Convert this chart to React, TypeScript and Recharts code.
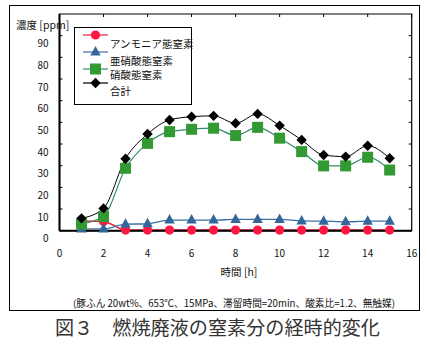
import React from 'react';
import { LineChart, Line, XAxis, YAxis, ReferenceArea } from 'recharts';

const hours = [1, 2, 3, 4, 5, 6, 7, 8, 9, 10, 11, 12, 13, 14, 15];
const ammonia = [4.5, 4.3, 0.3, 0.3, 0.3, 0.3, 0.3, 0.3, 0.3, 0.3, 0.3, 0.3, 0.3, 0.3, 0.3];
const nitrite = [0.8, 0.8, 3.0, 3.2, 4.9, 4.9, 4.9, 5.2, 5.2, 5.2, 4.5, 4.4, 4.1, 4.4, 4.4];
const nitrate = [3.1, 6.5, 28.8, 40.3, 45.7, 46.8, 47.3, 43.9, 47.7, 42.7, 36.5, 29.9, 29.9, 33.9, 28.0];
const total = [5.7, 10.3, 33.2, 44.6, 51.1, 52.6, 53.0, 49.6, 53.9, 48.5, 41.9, 34.9, 34.2, 39.2, 33.4];

const xTicks = [0, 2, 4, 6, 8, 10, 12, 14, 16];
const yTicks = [0, 10, 20, 30, 40, 50, 60, 70, 80, 90];

const seriesNames = ['アンモニア態窒素', '亜硝酸態窒素', '硝酸態窒素', '合計'];
const xTitle = '時間 [h]';
const yTitle = '濃度 [ppm]';
const caption = '(豚ふん 20wt%、653℃、15MPa、滞留時間=20min、酸素比=1.2、無触媒)';
const figTitle = '図３　燃焼廃液の窒素分の経時的変化';

const data = hours.map((h, i) => ({
  h,
  ammonia: ammonia[i],
  nitrite: nitrite[i],
  nitrate: nitrate[i],
  total: total[i],
}));

const FONT = '"Noto Sans CJK JP", "Noto Sans", sans-serif';
const PLOT_L = 59.5;
const PLOT_R = 411.7;
const PLOT_T = 14;
const PLOT_B = 230.7;
const YAXIS_W = 40;
const XAXIS_H = 30;

const colors = {
  ammonia: { line: '#e8203c', mark: '#ff1744' },
  nitrite: { line: '#3a6fa8', mark: '#336699' },
  nitrate: { line: '#2e8b6a', mark: '#339933' },
  total: { line: '#000000', mark: '#000000' },
};

const Circle = (p: any) => (
  <circle key={`c${p.index}`} cx={p.cx} cy={p.cy} r={4.6} fill={colors.ammonia.mark} />
);
const Tri = (p: any) => (
  <path
    key={`t${p.index}`}
    d={`M${p.cx},${p.cy - 6} L${p.cx + 5.2},${p.cy + 3.5} L${p.cx - 5.2},${p.cy + 3.5} Z`}
    fill={colors.nitrite.mark}
  />
);
const Sq = (p: any) => (
  <rect key={`s${p.index}`} x={p.cx - 5.5} y={p.cy - 5.5} width={11} height={11} fill={colors.nitrate.mark} />
);
const Dia = (p: any) => (
  <path
    key={`d${p.index}`}
    d={`M${p.cx},${p.cy - 5.2} L${p.cx + 5.2},${p.cy} L${p.cx},${p.cy + 5.2} L${p.cx - 5.2},${p.cy} Z`}
    fill="#000"
  />
);

const markerFns = [Circle, Tri, Sq, Dia];
const lineColors = [colors.ammonia.line, colors.nitrite.line, colors.nitrate.line, colors.total.line];

const LegendBox = () => {
  const rows = [35, 52, 69, 83];
  const texts = [44, 61, 75, 91];
  return (
    <g>
      <rect x={74.5} y={27.5} width={117} height={77} fill="#fff" stroke="#000" strokeWidth={1} />
      {seriesNames.map((n, i) => {
        const M = markerFns[i];
        const cy = rows[i];
        return (
          <g key={n}>
            <line x1={83} x2={108} y1={cy} y2={cy} stroke={lineColors[i]} strokeWidth={1.2} />
            <M cx={95.5} cy={cy} index={i} />
            <text x={110} y={texts[i] + 4} fontSize={10.5} fontFamily={FONT} fill="#111">
              {n}
            </text>
          </g>
        );
      })}
    </g>
  );
};

const YTick = (p: any) => {
  const v = p.payload.value;
  const y = p.y;
  return (
    <g>
      <line x1={PLOT_L} x2={PLOT_L + 3} y1={y} y2={y} stroke="#000" strokeWidth={1} />
      <line x1={PLOT_R - 3} x2={PLOT_R} y1={y} y2={y} stroke="#000" strokeWidth={1} />
      <text x={48.5} y={y + 8 + 3.5} textAnchor="end" fontSize={10} fontFamily={FONT} fill="#111">
        {v}
      </text>
    </g>
  );
};

const XTick = (p: any) => {
  const v = p.payload.value;
  const x = p.x;
  return (
    <g>
      <line x1={x} x2={x} y1={PLOT_T} y2={PLOT_T + 3} stroke="#000" strokeWidth={1} />
      <text x={x} y={PLOT_B + 23 + 3.5} textAnchor="middle" fontSize={10} fontFamily={FONT} fill="#111">
        {v}
      </text>
    </g>
  );
};

export default function App() {
  return (
    <div style={{ position: 'absolute', left: 0, top: 0, width: 427, height: 348, background: '#fff' }}>
      <div
        style={{
          position: 'absolute',
          left: 9,
          top: 5,
          width: 409,
          height: 304,
          border: '1px solid #000',
        }}
      />
      <div style={{ position: 'absolute', left: 0, top: 0 }}>
        <LineChart
          width={427}
          height={348}
          data={data}
          margin={{
            top: PLOT_T,
            left: PLOT_L - YAXIS_W,
            right: 427 - PLOT_R,
            bottom: 348 - PLOT_B - XAXIS_H,
          }}
        >
          <ReferenceArea x1={0} x2={16} y1={0} y2={100} fill="none" stroke="#000" strokeWidth={1.2} ifOverflow="visible" />
          <XAxis
            dataKey="h"
            type="number"
            domain={[0, 16]}
            ticks={xTicks}
            height={XAXIS_H}
            tickSize={0}
            tickMargin={0}
            axisLine={{ stroke: '#000', strokeWidth: 2 }}
            tickLine={false}
            tick={XTick}
            interval={0}
          />
          <YAxis
            type="number"
            domain={[0, 100]}
            ticks={yTicks}
            width={YAXIS_W}
            tickSize={0}
            tickMargin={0}
            axisLine={{ stroke: '#000', strokeWidth: 2 }}
            tickLine={false}
            tick={YTick}
            interval={0}
          />
          <Line
            dataKey="ammonia"
            type="monotone"
            stroke={colors.ammonia.line}
            strokeWidth={1.5}
            dot={Circle}
            activeDot={false}
            isAnimationActive={false}
          />
          <Line
            dataKey="nitrite"
            type="monotone"
            stroke={colors.nitrite.line}
            strokeWidth={1.3}
            dot={Tri}
            activeDot={false}
            isAnimationActive={false}
          />
          <Line
            dataKey="nitrate"
            type="monotone"
            stroke={colors.nitrate.line}
            strokeWidth={1.2}
            dot={Sq}
            activeDot={false}
            isAnimationActive={false}
          />
          <Line
            dataKey="total"
            type="monotone"
            stroke={colors.total.line}
            strokeWidth={1}
            dot={Dia}
            activeDot={false}
            isAnimationActive={false}
          />
        </LineChart>
      </div>
      <svg width={427} height={348} style={{ position: 'absolute', left: 0, top: 0, pointerEvents: 'none' }}>
        <LegendBox />
        <text x={16} y={29} fontSize={10.5} fontFamily={FONT} fill="#111">
          {yTitle}
        </text>
        <text x={239} y={276} textAnchor="middle" fontSize={10.5} fontFamily={FONT} fill="#111">
          {xTitle}
        </text>
        <text x={73} y={306.5} fontSize={10} fontFamily={FONT} fill="#111" textLength={322} lengthAdjust="spacingAndGlyphs">
          {caption}
        </text>
        <text x={55} y={335} fontSize={19} fontFamily={FONT} fill="#333" textLength={325} lengthAdjust="spacingAndGlyphs">
          {figTitle}
        </text>
      </svg>
    </div>
  );
}
